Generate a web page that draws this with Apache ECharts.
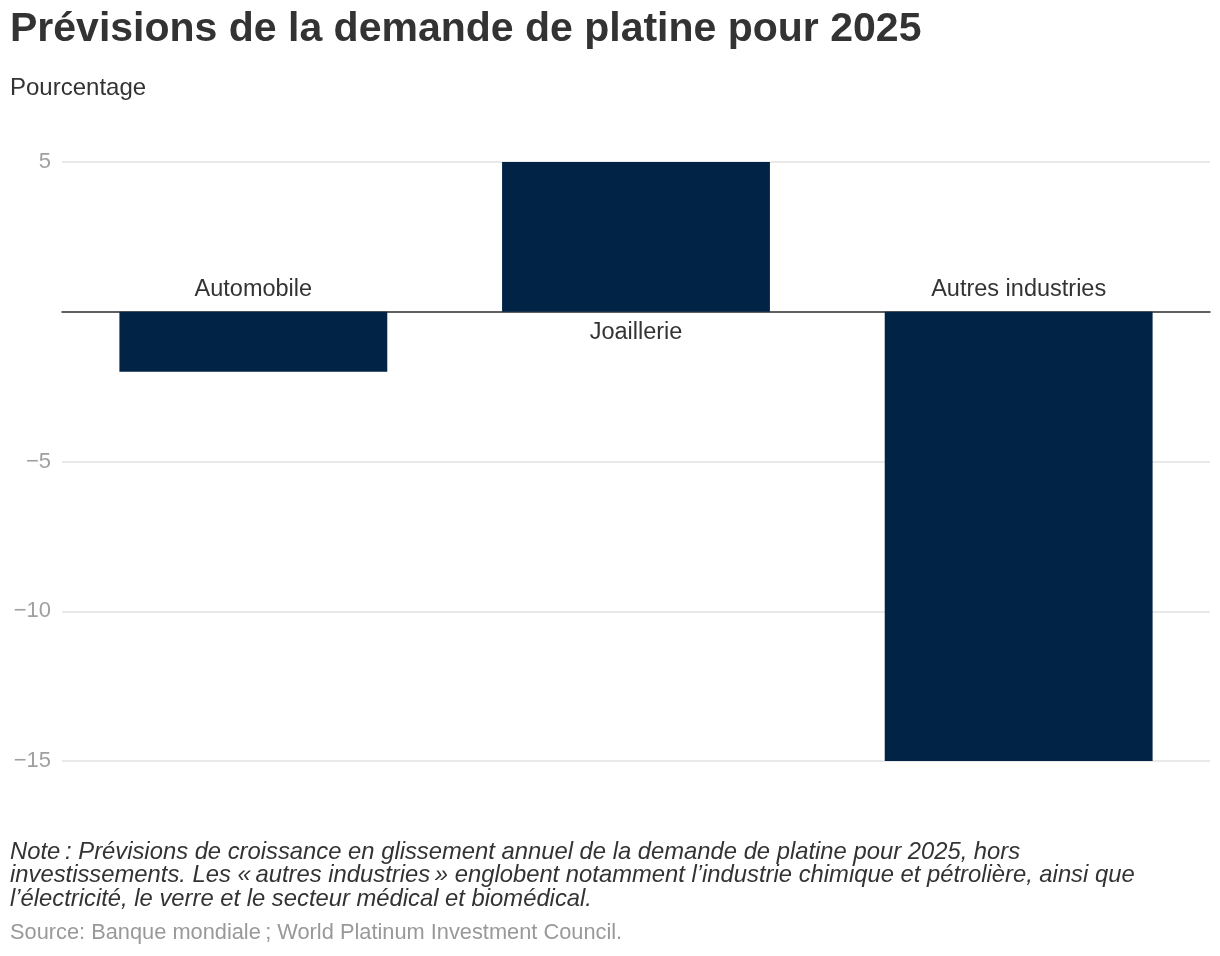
<!DOCTYPE html>
<html>
<head>
<meta charset="utf-8">
<script src="https://cdn.jsdelivr.net/npm/echarts@6/dist/echarts.min.js"></script>
<style>
html,body{margin:0;padding:0;background:#fff;}
#chart{width:1220px;height:956px;}
</style>
</head>
<body>
<div id="chart"></div>
<script>
const categories = ['Automobile', 'Joaillerie', 'Autres industries'];
const values = [-2, 5, -15];
const yTicks = { min: -15, max: 5, interval: 5 };

const FONT = '"Liberation Sans", Arial, Helvetica, sans-serif';
const chart = echarts.init(document.getElementById('chart'), null, { renderer: 'canvas' });

const option = {
  backgroundColor: '#ffffff',
  animation: false,
  textStyle: { fontFamily: FONT },
  title: [
    {
      text: 'Prévisions de la demande de platine pour 2025',
      left: 10, top: 9, padding: 0,
      textStyle: { fontFamily: FONT, fontSize: 41, fontWeight: 'bold', color: '#333333' }
    },
    {
      text: 'Pourcentage',
      left: 10, top: 76, padding: 0,
      textStyle: { fontFamily: FONT, fontSize: 24, fontWeight: 'normal', color: '#333333' }
    }
  ],
  grid: { left: 62, right: 10, top: 162, bottom: 195, containLabel: false },
  xAxis: {
    type: 'category',
    data: categories,
    axisLine: { show: true, onZero: true, lineStyle: { color: '#333333', width: 1.5 } },
    axisTick: { show: false },
    axisLabel: { show: false },
    splitLine: { show: false }
  },
  yAxis: {
    type: 'value',
    min: yTicks.min, max: yTicks.max, interval: yTicks.interval,
    axisLine: { show: false },
    axisTick: { show: false },
    splitLine: { show: true, lineStyle: { color: '#e2e2e2', width: 1.5 } },
    axisLabel: {
      margin: 11,
      fontFamily: FONT, fontSize: 22, color: '#a0a0a0',
      formatter: function (v) {
        if (v === 0) return '';
        return v < 0 ? '\u2212' + Math.abs(v) : String(v);
      }
    }
  },
  series: [{
    type: 'bar',
    barWidth: '70%',
    itemStyle: { color: '#012345' },
    data: values.map(function (v) {
      return {
        value: v,
        label: {
          show: true,
          position: v < 0 ? 'top' : 'bottom',
          distance: v < 0 ? 10 : 9,
          formatter: '{b}',
          fontFamily: FONT, fontSize: 23.5, color: '#333333'
        }
      };
    })
  }],
  graphic: [
    {
      type: 'text', left: 10, top: 840,
      style: {
        text: 'Note\u202f: Prévisions de croissance en glissement annuel de la demande de platine pour 2025, hors\ninvestissements. Les «\u202fautres industries\u202f» englobent notamment l\u2019industrie chimique et pétrolière, ainsi que\nl\u2019électricité, le verre et le secteur médical et biomédical.',
        font: 'italic 23.8px ' + FONT,
        fill: '#333333',
        lineHeight: 23.5
      }
    },
    {
      type: 'text', left: 10, top: 922,
      style: {
        text: 'Source: Banque mondiale\u202f; World Platinum Investment Council.',
        font: '21.8px ' + FONT,
        fill: '#999999'
      }
    }
  ]
};
chart.setOption(option);
</script>
</body>
</html>
